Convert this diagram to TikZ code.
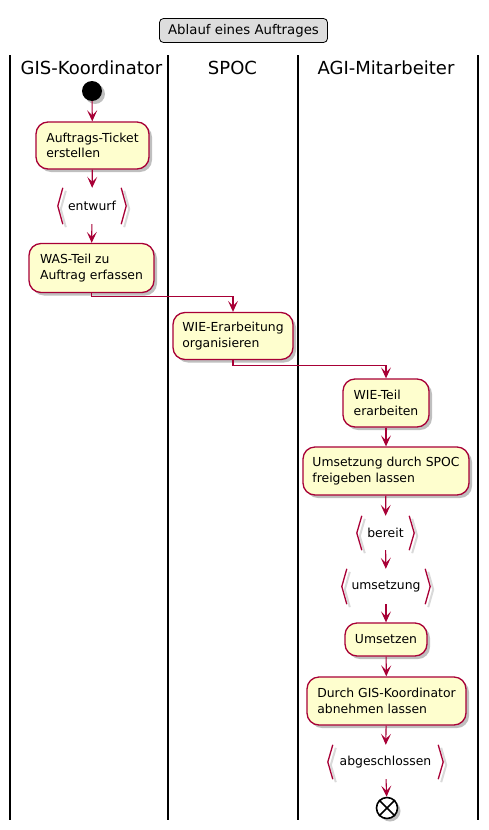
\documentclass[tikz,border=0pt]{standalone}
\usepackage{fontspec}
\setmainfont{DejaVu Sans}
\usetikzlibrary{arrows.meta,shadows,calc}
\definecolor{actfill}{HTML}{FEFECE}
\definecolor{actline}{HTML}{A80036}
\definecolor{titlefill}{HTML}{DDDDDD}
\tikzset{
  x=1pt,y=-1pt,
  every node/.style={font=\fontsize{12.4}{15.5}\selectfont},
  pshadow/.style={drop shadow={shadow xshift=3pt,shadow yshift=-3pt,opacity=0.25,fill=black}},
  act/.style={draw=actline,fill=actfill,line width=1.3pt,rounded corners=12pt,align=left,inner sep=0pt,pshadow},
  brknode/.style={inner sep=0pt,align=center},
  brk/.style={draw=actline,line width=1.3pt},
  brkshadow/.style={draw=black!15,line width=2pt},
  flow/.style={draw=actline,line width=1.1pt,-{Stealth[length=11pt,width=10pt,inset=5pt]}},
  lane/.style={draw=black,line width=1.5pt},
  lanehead/.style={font=\fontsize{18}{20}\selectfont},
}
\begin{document}
\begin{tikzpicture}
\useasboundingbox (0,0) rectangle (489,830);
% title
\node[draw=black,fill=titlefill,rounded corners=4pt,line width=0.8pt,minimum width=168pt,minimum height=24pt,inner sep=0pt,font=\fontsize{13.3}{16}\selectfont] (title) at (243.5,30.5) {Ablauf eines Auftrages};
% lanes
\foreach \x in {10,168,298,478} { \draw[lane] (\x,55) -- (\x,820); }
\node[lanehead] (h1) at (91.5,68) {GIS-Koordinator};
\node[lanehead] (h2) at (232.5,68) {SPOC};
\node[lanehead] (h3) at (386,68) {AGI-Mitarbeiter};
% start
\node[circle,fill=black,minimum size=20pt,inner sep=0pt,pshadow] (start) at (92,91) {};
% activities
\node[act,minimum width=113pt,minimum height=47pt] (ticket) at (92.5,145.5) {Auftrags-Ticket\\erstellen};
\node[brknode,minimum width=68pt,minimum height=36pt] (entwurf) at (92,206) {entwurf};
\node[act,minimum width=125pt,minimum height=49pt] (was) at (91.5,268) {WAS-Teil zu\\Auftrag erfassen};
\node[act,minimum width=120pt,minimum height=47pt] (wieorg) at (233,336) {WIE-Erarbeitung\\organisieren};
\node[act,minimum width=86pt,minimum height=48pt] (wieteil) at (386,403) {WIE-Teil\\erarbeiten};
\node[act,minimum width=166pt,minimum height=48pt] (umsfrei) at (386,471) {Umsetzung durch SPOC\\freigeben lassen};
\node[brknode,minimum width=57pt,minimum height=34pt] (bereit) at (385.5,533) {bereit};
\node[brknode,minimum width=88pt,minimum height=35pt] (umsetzung) at (386,586.5) {umsetzung};
\node[act,minimum width=82pt,minimum height=33pt] (umsetzen) at (386,639.5) {Umsetzen};
\node[act,minimum width=159pt,minimum height=48pt] (durch) at (386.5,701) {Durch GIS-Koordinator\\abnehmen lassen};
\node[brknode,minimum width=115pt,minimum height=34pt] (abg) at (385.5,762) {abgeschlossen};
\node[circle,draw=black,fill=white,line width=1.6pt,minimum size=21pt,inner sep=0pt,pshadow] (stop) at (387,808) {};
\draw[black,line width=1.6pt] (stop.north west) -- (stop.south east) (stop.north east) -- (stop.south west);
% brackets
\foreach \n in {entwurf,bereit,umsetzung,abg} {
  \draw[brkshadow] ([xshift=8pt,yshift=-3pt]\n.north west) -- ([xshift=3pt,yshift=-3pt]\n.west) -- ([xshift=8pt,yshift=-3pt]\n.south west);
  \draw[brkshadow] ([xshift=-2pt,yshift=-3pt]\n.north east) -- ([xshift=3pt,yshift=-3pt]\n.east) -- ([xshift=-2pt,yshift=-3pt]\n.south east);
  \draw[brk] ([xshift=5pt]\n.north west) -- (\n.west) -- ([xshift=5pt]\n.south west);
  \draw[brk] ([xshift=-5pt]\n.north east) -- (\n.east) -- ([xshift=-5pt]\n.south east);
}
% flows
\draw[flow] (start) -- (ticket);
\draw[flow] (ticket) -- (entwurf);
\draw[flow] (entwurf) -- (was);
\draw[flow] (was.south) -- ++(0,3) -| (wieorg.north);
\draw[flow] (wieorg.south) -- ++(0,5) -| (wieteil.north);
\draw[flow] (wieteil) -- (umsfrei);
\draw[flow] (umsfrei) -- (bereit);
\draw[flow] (bereit) -- (umsetzung);
\draw[flow] (umsetzung) -- (umsetzen);
\draw[flow] (umsetzen) -- (durch);
\draw[flow] (durch) -- (abg);
\draw[flow] (abg) -- (stop);
\end{tikzpicture}
\end{document}
